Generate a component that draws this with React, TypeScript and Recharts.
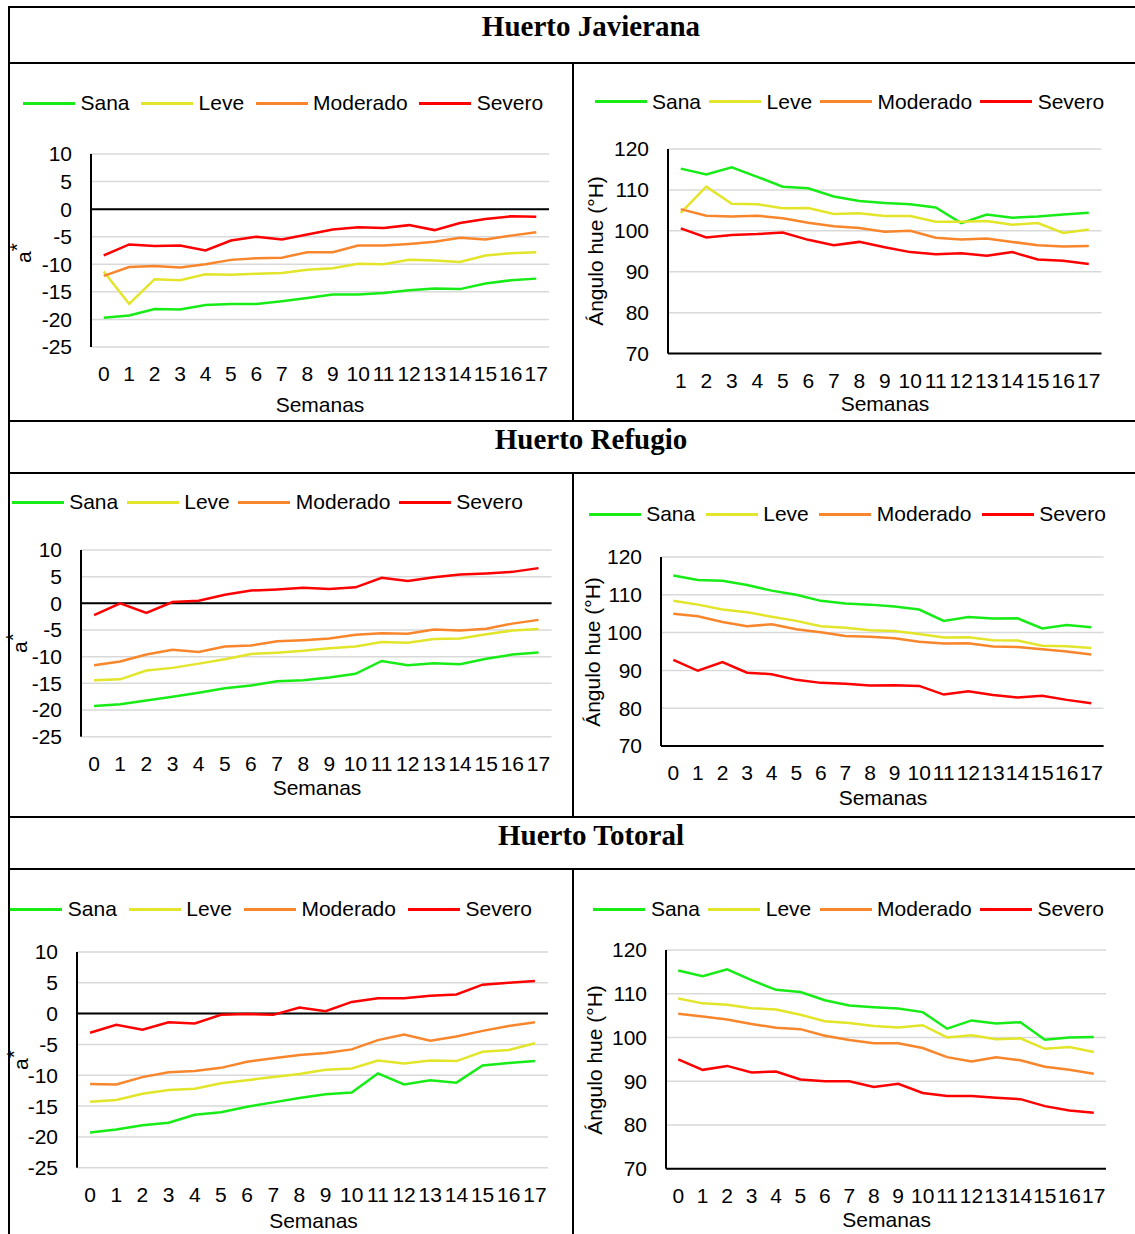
import React from 'react';
import { LineChart, Line, XAxis, YAxis, CartesianGrid, ReferenceLine } from 'recharts';

const SANS = "'Liberation Sans', Arial, sans-serif";
const SERIF = "'Liberation Serif', 'Times New Roman', serif";

const weeks = ['0', '1', '2', '3', '4', '5', '6', '7', '8', '9', '10', '11', '12', '13', '14', '15', '16', '17'];
const weeksFrom1 = weeks.slice(1);

const seriesNames = ['Sana', 'Leve', 'Moderado', 'Severo'];
const seriesColors = ['#17ec17', '#e2e52a', '#f7862c', '#ff0000'];

const aTicks = [-25, -20, -15, -10, -5, 0, 5, 10];
const hueTicks = [70, 80, 90, 100, 110, 120];

// Huerto Javierana, a*
const javASana = [-19.7, -19.3, -18.1, -18.2, -17.4, -17.2, -17.2, -16.7, -16.1, -15.5, -15.5, -15.2, -14.7, -14.4, -14.5, -13.5, -12.9, -12.6];
const javALeve = [-11.3, -17.2, -12.7, -12.9, -11.8, -11.9, -11.7, -11.6, -11.0, -10.7, -9.9, -10.0, -9.2, -9.3, -9.6, -8.4, -8.0, -7.8];
const javAModerado = [-12.1, -10.5, -10.3, -10.6, -10.0, -9.2, -8.9, -8.8, -7.8, -7.8, -6.6, -6.6, -6.3, -5.9, -5.2, -5.5, -4.8, -4.2];
const javASevero = [-8.4, -6.4, -6.7, -6.6, -7.5, -5.7, -5.0, -5.5, -4.6, -3.7, -3.3, -3.4, -2.9, -3.8, -2.5, -1.8, -1.3, -1.4];

// Huerto Javierana, hue (weeks 1-17)
const javHSana = [115.2, 113.8, 115.5, 113.2, 110.8, 110.4, 108.4, 107.3, 106.8, 106.5, 105.7, 101.9, 104.0, 103.2, 103.5, 104.0, 104.4];
const javHLeve = [104.4, 110.8, 106.6, 106.5, 105.5, 105.6, 104.1, 104.3, 103.6, 103.6, 102.2, 102.2, 102.4, 101.5, 101.9, 99.5, 100.3];
const javHModerado = [105.3, 103.7, 103.5, 103.7, 103.1, 102.0, 101.1, 100.7, 99.8, 100.0, 98.3, 97.9, 98.1, 97.3, 96.5, 96.2, 96.3];
const javHSevero = [100.6, 98.4, 99.0, 99.2, 99.6, 97.8, 96.5, 97.3, 96.0, 94.8, 94.3, 94.5, 93.9, 94.8, 93.0, 92.7, 91.9];

// Huerto Refugio, a*
const refASana = [-19.25, -18.9, -18.2, -17.5, -16.75, -15.9, -15.4, -14.6, -14.4, -13.9, -13.2, -10.8, -11.6, -11.25, -11.4, -10.4, -9.6, -9.2];
const refALeve = [-14.4, -14.25, -12.6, -12.1, -11.3, -10.5, -9.5, -9.25, -8.9, -8.4, -8.1, -7.25, -7.4, -6.7, -6.6, -5.8, -5.1, -4.8];
const refAModerado = [-11.6, -10.9, -9.6, -8.7, -9.1, -8.1, -7.9, -7.1, -6.9, -6.6, -5.9, -5.6, -5.7, -4.9, -5.1, -4.75, -3.8, -3.1];
const refASevero = [-2.2, 0.0, -1.8, 0.25, 0.5, 1.6, 2.4, 2.6, 2.9, 2.7, 3.0, 4.8, 4.2, 4.9, 5.4, 5.6, 5.9, 6.6];

// Huerto Refugio, hue
const refHSana = [115.1, 113.9, 113.7, 112.6, 111.1, 110.0, 108.4, 107.7, 107.4, 106.9, 106.1, 103.1, 104.1, 103.7, 103.8, 101.1, 102.0, 101.4];
const refHLeve = [108.4, 107.4, 106.1, 105.4, 104.2, 103.1, 101.7, 101.3, 100.6, 100.4, 99.6, 98.7, 98.8, 98.0, 97.9, 96.5, 96.4, 95.9];
const refHModerado = [105.0, 104.3, 102.8, 101.7, 102.2, 100.9, 100.1, 99.1, 98.9, 98.5, 97.6, 97.1, 97.2, 96.3, 96.2, 95.6, 95.0, 94.2];
const refHSevero = [92.8, 89.9, 92.2, 89.4, 89.0, 87.5, 86.7, 86.5, 86.0, 86.1, 85.9, 83.6, 84.5, 83.5, 82.8, 83.3, 82.2, 81.3];

// Huerto Totoral, a*
const totASana = [-19.3, -18.8, -18.1, -17.7, -16.4, -16.0, -15.1, -14.4, -13.7, -13.1, -12.8, -9.7, -11.5, -10.8, -11.2, -8.4, -8.0, -7.7];
const totALeve = [-14.3, -14.0, -13.0, -12.4, -12.2, -11.3, -10.8, -10.3, -9.8, -9.1, -8.9, -7.6, -8.1, -7.6, -7.7, -6.2, -5.9, -4.8];
const totAModerado = [-11.4, -11.5, -10.3, -9.5, -9.3, -8.8, -7.8, -7.25, -6.7, -6.4, -5.8, -4.3, -3.4, -4.4, -3.7, -2.8, -2.0, -1.4];
const totASevero = [-3.1, -1.8, -2.6, -1.4, -1.6, -0.2, -0.06, -0.2, 1.0, 0.4, 1.9, 2.5, 2.5, 2.9, 3.1, 4.7, 5.0, 5.3];

// Huerto Totoral, hue
const totHSana = [115.3, 114.0, 115.6, 113.1, 110.9, 110.4, 108.5, 107.3, 106.9, 106.6, 105.8, 102.0, 103.9, 103.2, 103.5, 99.5, 100.0, 100.1];
const totHLeve = [108.9, 107.8, 107.5, 106.7, 106.4, 105.2, 103.7, 103.3, 102.6, 102.3, 102.8, 100.0, 100.5, 99.6, 99.8, 97.4, 97.8, 96.7];
const totHModerado = [105.4, 104.8, 104.1, 103.1, 102.2, 101.9, 100.4, 99.4, 98.7, 98.7, 97.6, 95.5, 94.5, 95.5, 94.8, 93.3, 92.6, 91.7];
const totHSevero = [95.0, 92.6, 93.5, 92.0, 92.2, 90.4, 90.0, 90.0, 88.7, 89.4, 87.3, 86.6, 86.6, 86.2, 85.9, 84.3, 83.3, 82.8];

type Row = Record<string, string | number>;

const toRows = (cats: string[], series: number[][]): Row[] =>
  cats.map((week, i) => {
    const row: Row = { week };
    seriesNames.forEach((name, s) => {
      row[name] = series[s][i];
    });
    return row;
  });

const Y_AXIS_W = 80;
const X_AXIS_H = 44;
const PAD_TOP = 20;
const PAD_RIGHT = 12;

const tickStyle = { fill: '#000', fontSize: 21, fontFamily: SANS };

interface Rect {
  left: number;
  top: number;
  right: number;
  bottom: number;
}

interface PanelProps {
  rows: Row[];
  kind: 'a' | 'hue';
  plot: Rect;
  legendX: number;
  legendY: number;
  legendGap: number;
  semanasX: number;
  semanasY: number;
  labelX: number;
  labelY: number;
}

const Legend = ({ x, y, gap }: { x: number; y: number; gap: number }) => (
  <div
    style={{
      position: 'absolute',
      left: x,
      top: y - 12,
      height: 24,
      display: 'flex',
      alignItems: 'center',
      gap,
      fontFamily: SANS,
      fontSize: 21,
      color: '#000',
      whiteSpace: 'nowrap'
    }}
  >
    {seriesNames.map((name, i) => (
      <div key={name} style={{ display: 'flex', alignItems: 'center' }}>
        <span style={{ display: 'inline-block', width: 52, height: 3, background: seriesColors[i], marginRight: 5.5 }} />
        <span style={{ lineHeight: '24px' }}>{name}</span>
      </div>
    ))}
  </div>
);

const Panel = ({ rows, kind, plot, legendX, legendY, legendGap, semanasX, semanasY, labelX, labelY }: PanelProps) => {
  const plotW = plot.right - plot.left;
  const plotH = plot.bottom - plot.top;
  const band = plotW / rows.length;
  const width = Y_AXIS_W + plotW + PAD_RIGHT;
  const height = PAD_TOP + plotH + X_AXIS_H;
  const isHue = kind === 'hue';
  const labelW = 200;

  return (
    <>
      <Legend x={legendX} y={legendY} gap={legendGap} />
      <div style={{ position: 'absolute', left: plot.left - Y_AXIS_W, top: plot.top - PAD_TOP }}>
        <LineChart width={width} height={height} data={rows} margin={{ top: PAD_TOP, right: PAD_RIGHT, bottom: 0, left: 0 }}>
          <CartesianGrid vertical={false} stroke="#d9d9d9" strokeWidth={1.5} />
          <XAxis
            dataKey="week"
            interval={0}
            height={X_AXIS_H}
            tickLine={false}
            tickSize={0}
            tickMargin={19}
            padding={{ left: band / 2, right: band / 2 }}
            axisLine={isHue ? { stroke: '#000', strokeWidth: 2 } : false}
            tick={tickStyle}
          />
          <YAxis
            width={Y_AXIS_W}
            domain={isHue ? [70, 120] : [-25, 10]}
            ticks={isHue ? hueTicks : aTicks}
            interval={0}
            tickLine={false}
            tickSize={0}
            tickMargin={19}
            axisLine={{ stroke: '#000', strokeWidth: 2 }}
            tick={tickStyle}
          />
          {!isHue && <ReferenceLine y={0} stroke="#000" strokeWidth={2} />}
          {seriesNames.map((name, i) => (
            <Line
              key={name}
              type="linear"
              dataKey={name}
              stroke={seriesColors[i]}
              strokeWidth={2.5}
              dot={false}
              isAnimationActive={false}
            />
          ))}
        </LineChart>
      </div>
      <div
        style={{
          position: 'absolute',
          left: semanasX - 60,
          top: semanasY - 19,
          width: 120,
          lineHeight: '24px',
          textAlign: 'center',
          fontFamily: SANS,
          fontSize: 21,
          color: '#000'
        }}
      >
        Semanas
      </div>
      <div
        style={{
          position: 'absolute',
          left: labelX - labelW / 2,
          top: labelY - 12,
          width: labelW,
          lineHeight: '24px',
          textAlign: 'center',
          fontFamily: SANS,
          fontSize: 21,
          color: '#000',
          transform: 'rotate(-90deg)',
          whiteSpace: 'nowrap'
        }}
      >
        {isHue ? 'Ángulo hue (°H)' : (
          <>
            a<span style={{ position: 'relative', top: -7 }}>*</span>
          </>
        )}
      </div>
    </>
  );
};

const Rule = ({ x, y, w, h }: { x: number; y: number; w: number; h: number }) => (
  <div style={{ position: 'absolute', left: x, top: y, width: w, height: h, background: '#000' }} />
);

const Title = ({ text, baseline }: { text: string; baseline: number }) => (
  <div
    style={{
      position: 'absolute',
      left: 591 - 300,
      top: baseline - 26.3,
      width: 600,
      lineHeight: '33px',
      textAlign: 'center',
      fontFamily: SERIF,
      fontWeight: 'bold',
      fontSize: 29,
      color: '#000'
    }}
  >
    {text}
  </div>
);

export default function App() {
  const javA = toRows(weeks, [javASana, javALeve, javAModerado, javASevero]);
  const javH = toRows(weeksFrom1, [javHSana, javHLeve, javHModerado, javHSevero]);
  const refA = toRows(weeks, [refASana, refALeve, refAModerado, refASevero]);
  const refH = toRows(weeks, [refHSana, refHLeve, refHModerado, refHSevero]);
  const totA = toRows(weeks, [totASana, totALeve, totAModerado, totASevero]);
  const totH = toRows(weeks, [totHSana, totHLeve, totHModerado, totHSevero]);

  return (
    <div style={{ position: 'absolute', left: 0, top: 0, width: 1135, height: 1234, overflow: 'hidden', background: '#fff' }}>
      <Title text="Huerto Javierana" baseline={36.5} />
      <Title text="Huerto Refugio" baseline={449} />
      <Title text="Huerto Totoral" baseline={845} />

      <Panel rows={javA} kind="a" plot={{ left: 91, top: 154.3, right: 549, bottom: 347.3 }}
        legendX={23} legendY={103.3} legendGap={11.5} semanasX={320} semanasY={412} labelX={24} labelY={253} />
      <Panel rows={javH} kind="hue" plot={{ left: 668, top: 148.7, right: 1101.5, bottom: 353.3 }}
        legendX={594.5} legendY={101.7} legendGap={8} semanasX={885} semanasY={410.7} labelX={595.7} labelY={251} />
      <Panel rows={refA} kind="a" plot={{ left: 81.4, top: 550, right: 552, bottom: 736.7 }}
        legendX={11.7} legendY={502.3} legendGap={8.5} semanasX={317} semanasY={795} labelX={20} labelY={643} />
      <Panel rows={refH} kind="hue" plot={{ left: 661, top: 557.3, right: 1103.6, bottom: 746.3 }}
        legendX={588.7} legendY={514.3} legendGap={10.5} semanasX={883} semanasY={805} labelX={593} labelY={652} />
      <Panel rows={totA} kind="a" plot={{ left: 77, top: 952, right: 548, bottom: 1167.7 }}
        legendX={10.3} legendY={909} legendGap={12} semanasX={313.5} semanasY={1228} labelX={21} labelY={1060} />
      <Panel rows={totH} kind="hue" plot={{ left: 666, top: 950, right: 1106, bottom: 1168.7 }}
        legendX={593.4} legendY={909} legendGap={8.3} semanasX={886.7} semanasY={1227} labelX={595} labelY={1060} />

      {/* table rules */}
      <Rule x={8} y={5.5} w={1127} h={2} />
      <Rule x={8} y={5.5} w={2} h={1229} />
      <Rule x={8} y={62} w={1127} h={2} />
      <Rule x={8} y={419.5} w={1127} h={2} />
      <Rule x={8} y={471.5} w={1127} h={2} />
      <Rule x={8} y={815.5} w={1127} h={2} />
      <Rule x={8} y={868} w={1127} h={2} />
      <Rule x={572} y={63} w={2} h={357} />
      <Rule x={572} y={472} w={2} h={344} />
      <Rule x={572} y={869} w={2} h={365} />
    </div>
  );
}
